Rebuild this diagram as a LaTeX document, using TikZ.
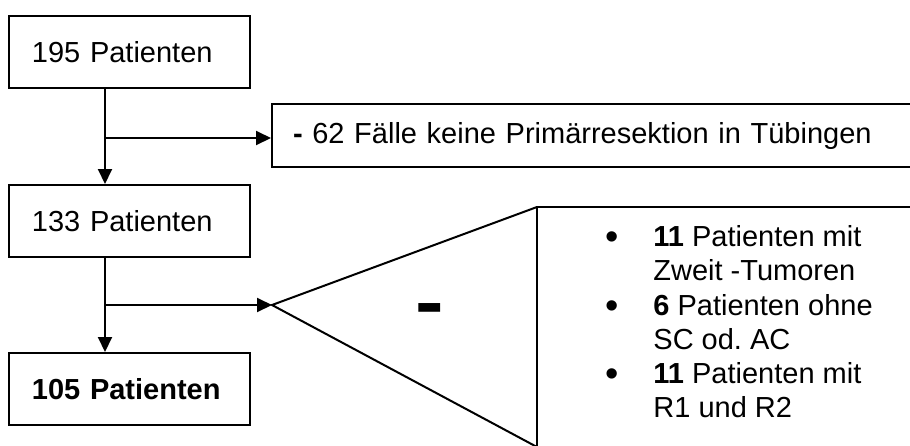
\documentclass[tikz,border=0pt]{standalone}
\usepackage{fontspec}
\setmainfont{Liberation Sans}
\usetikzlibrary{arrows.meta}
\frenchspacing
\begin{document}
\begin{tikzpicture}[x=0.5pt,y=-0.5pt,
  box/.style={draw,line width=1pt,minimum width=120.5pt,minimum height=36pt,text width=97.5pt,align=left,inner xsep=11.5pt,inner ysep=0pt,font=\fontsize{14.5}{17}\selectfont},
  wide/.style={draw,line width=1pt,minimum width=321.5pt,minimum height=31.5pt,text width=300.5pt,align=left,inner xsep=10.5pt,inner ysep=0pt,font=\fontsize{14.5}{17}\selectfont},
  arr/.style={line width=1pt,-{Triangle[length=7.5pt,width=7pt]}},
  edge/.style={line width=1pt},
  ln/.style={anchor=base west,inner sep=0pt,font=\fontsize{14.5}{17}\selectfont},
  bul/.style={anchor=base,inner sep=0pt,font=\fontsize{19}{19}\selectfont},
]
\useasboundingbox (0,0) rectangle (910,445);
% boxes
\node[box] (p195) at (129.5,52) {195 Patienten};
\node[box] (p133) at (129.5,221) {133 Patienten};
\node[box] (p105) at (129.5,389) {\textbf{105 Patienten}};
\node[wide] (excl) at (593.5,135.5) {\textbf{-} 62 Fälle keine Primärresektion in Tübingen};
% trunk coordinates
\coordinate (j1) at (105,138);
\coordinate (j2) at (105,305);
\draw[arr] (j1 |- p195.south) -- (j1 |- p133.north);
\draw[arr] (j1) -- (j1 -| excl.west);
\draw[arr] (j2 |- p133.south) -- (j2 |- p105.north);
% triangle and list box
\coordinate (apex) at (272,305);
\coordinate (ttop) at (537,207);
\coordinate (tbot) at (537,447);
\coordinate (lbot) at (537,452);
\coordinate (rtop) at (916,207);
\draw[arr] (j2) -- (apex);
\draw[edge,line join=miter] (tbot) -- (apex) -- (ttop);
\draw[edge] (lbot) -- (ttop) -- (rtop);
\node[anchor=base,inner sep=0pt,font=\fontsize{22}{22}\selectfont\bfseries] (minus) at (430,331) {\scalebox{1}[2]{–}};
% list
\node[bul] (b1) at (612,249) {•};
\node[bul] (b2) at (612,318) {•};
\node[bul] (b3) at (612,386) {•};
\node[ln] (l1) at (653,246) {\textbf{11} Patienten mit};
\node[ln] (l2) at (653,280) {Zweit -Tumoren};
\node[ln] (l3) at (653,315) {\textbf{6} Patienten ohne};
\node[ln] (l4) at (653,349) {SC od. AC};
\node[ln] (l5) at (653,383) {\textbf{11} Patienten mit};
\node[ln] (l6) at (653,417) {R1 und R2};
\end{tikzpicture}
\end{document}
